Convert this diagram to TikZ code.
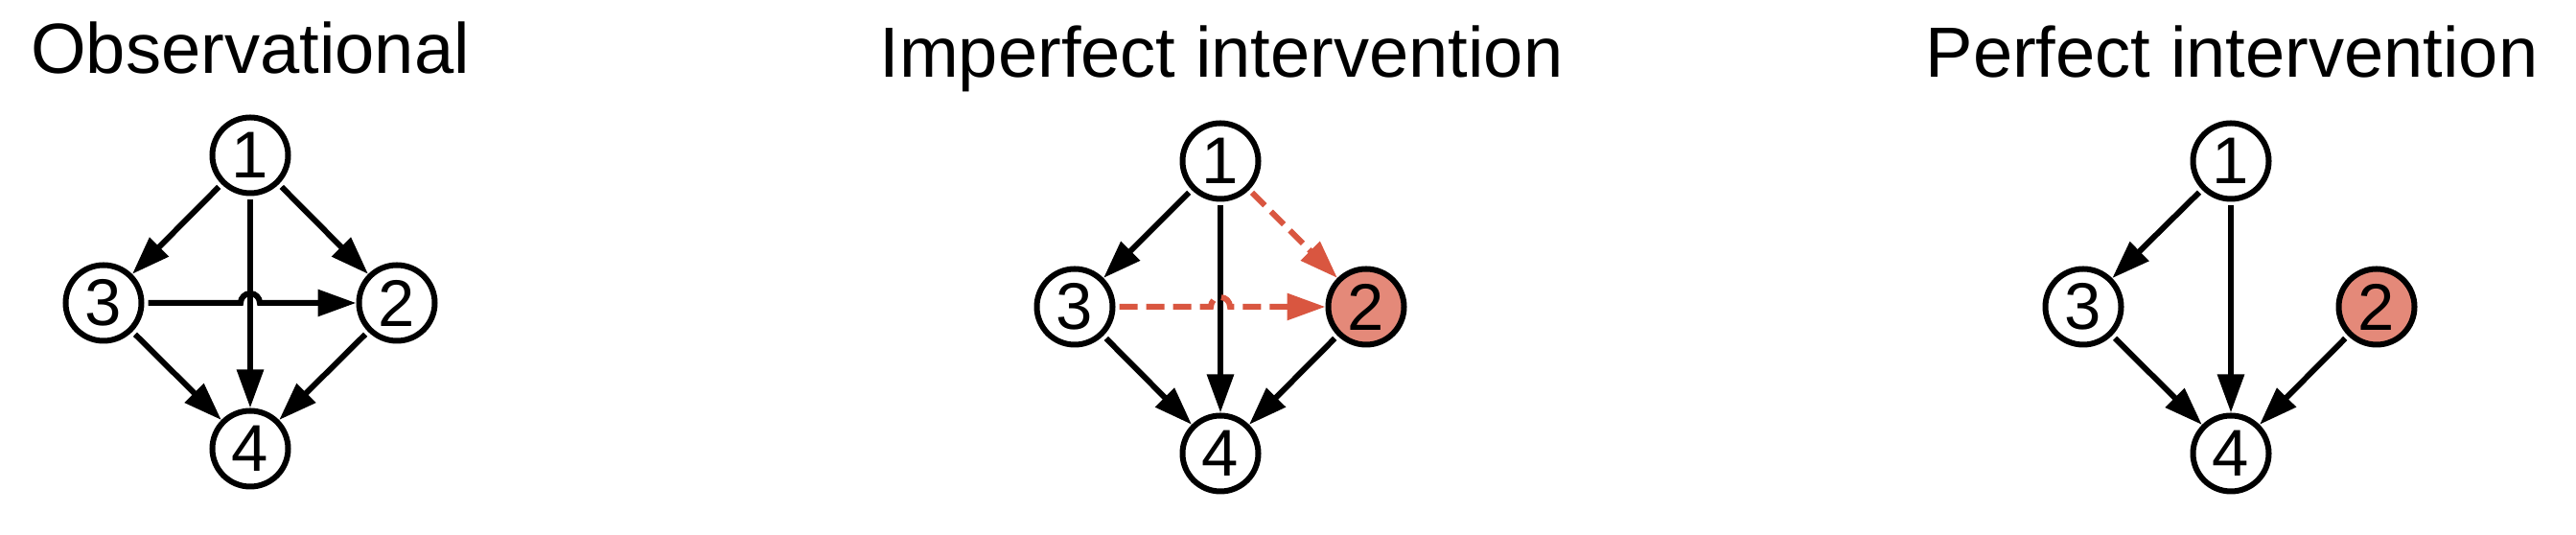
\documentclass[tikz,border=0pt]{standalone}
\usepackage{fontspec}
\setmainfont{Liberation Sans}
\usetikzlibrary{arrows.meta}
\definecolor{intred}{RGB}{217,86,64}

\begin{document}
\begin{tikzpicture}[
  var/.style={circle,draw,line width=0.06cm,fill=white,minimum size=0.79cm,inner sep=0pt,font=\fontsize{19.6pt}{20pt}\selectfont},
  intvar/.style={var,fill=intred!70!white},
  title/.style={anchor=base,font=\fontsize{21.1pt}{25pt}\selectfont},
  edge/.style={line width=0.06cm,-{Triangle[length=0.40cm,width=0.27cm]},shorten <=0.04cm},
  intedge/.style={edge,draw=intred,dash pattern=on 0.19cm off 0.09cm}
]
\useasboundingbox (0,0) rectangle (26.87,5.58);

% observational
\node[title] (obstitle) at (2.61,4.81) {Observational};
\node[var] (o1) at (2.61,3.96) {1};
\node[var] (o3) at (1.08,2.42) {3};
\node[var] (o2) at (4.14,2.42) {2};
\node[var] (o4) at (2.61,0.90) {4};
\draw[edge] (o1) -- (o3);
\draw[edge] (o1) -- (o2);
\draw[edge] (o1) -- (o4);
\draw[edge] (o3) -- ([xshift=-0.1cm]o3 -| o1) arc[start angle=180,end angle=0,radius=0.1cm] -- (o2);
\draw[edge] (o3) -- (o4);
\draw[edge] (o2) -- (o4);

% imperfect intervention
\node[title] (imptitle) at (12.74,4.77) {Imperfect intervention};
\node[var] (i1) at (12.73,3.90) {1};
\node[var] (i3) at (11.21,2.38) {3};
\node[intvar] (i2) at (14.25,2.38) {2};
\node[var] (i4) at (12.73,0.85) {4};
\draw[edge] (i1) -- (i3);
\draw[intedge] (i1) -- (i2);
\draw[edge] (i1) -- (i4);
\draw[intedge] (i3) -- ([xshift=-0.1cm]i3 -| i1) arc[start angle=180,end angle=0,radius=0.1cm] -- (i2);
\draw[edge] (i3) -- (i4);
\draw[edge] (i2) -- (i4);

% perfect intervention
\node[title] (pertitle) at (23.28,4.77) {Perfect intervention};
\node[var] (p1) at (23.27,3.90) {1};
\node[var] (p3) at (21.73,2.38) {3};
\node[intvar] (p2) at (24.79,2.38) {2};
\node[var] (p4) at (23.27,0.85) {4};
\draw[edge] (p1) -- (p3);
\draw[edge] (p1) -- (p4);
\draw[edge] (p3) -- (p4);
\draw[edge] (p2) -- (p4);
\end{tikzpicture}
\end{document}
